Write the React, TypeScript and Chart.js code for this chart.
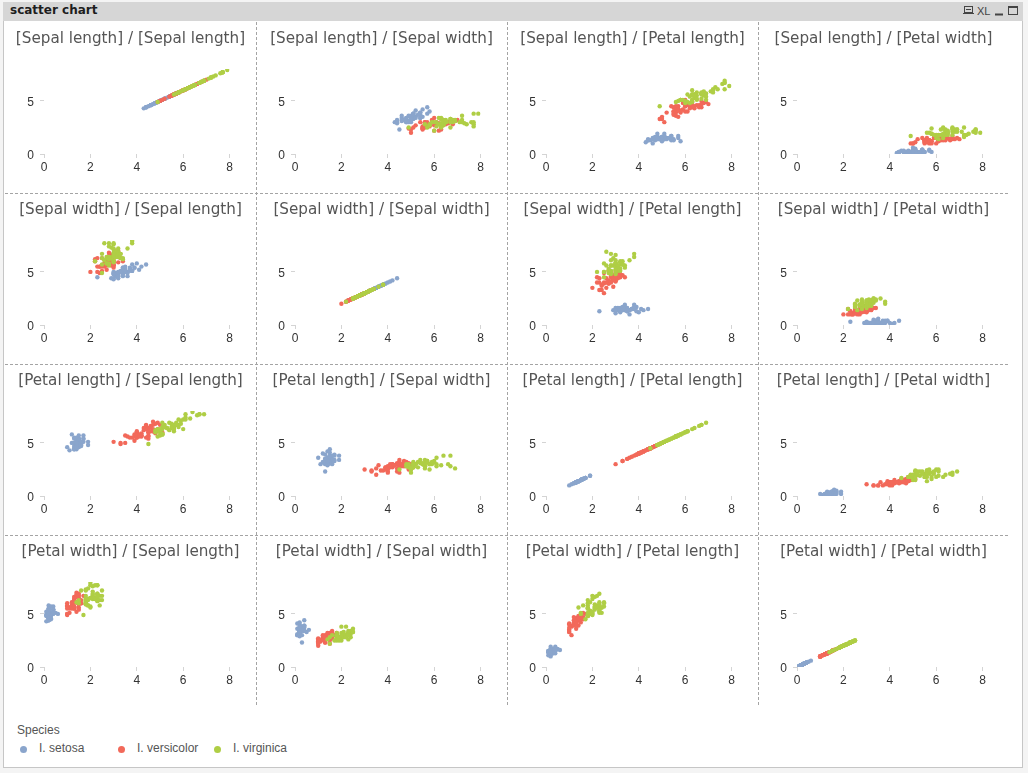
import React, { useEffect, useRef } from 'react';
import { Chart, registerables } from 'chart.js';

Chart.register(...registerables);

// ---- data (Fisher's iris, read per species) ----
const speciesNames = ['I. setosa', 'I. versicolor', 'I. virginica'];
const speciesColors = ['#8aa5cc', '#f2695a', '#afce45'];
const measureNames = ['Sepal length', 'Sepal width', 'Petal length', 'Petal width'];
const xTickValues = [0, 2, 4, 6, 8];
const yTickValues = [0, 5];

const setosaSepalLength = [5.1, 4.9, 4.7, 4.6, 5.0, 5.4, 4.6, 5.0, 4.4, 4.9, 5.4, 4.8, 4.8, 4.3, 5.8, 5.7, 5.4, 5.1, 5.7, 5.1, 5.4, 5.1, 4.6, 5.1, 4.8, 5.0, 5.0, 5.2, 5.2, 4.7, 4.8, 5.4, 5.2, 5.5, 4.9, 5.0, 5.5, 4.9, 4.4, 5.1, 5.0, 4.5, 4.4, 5.0, 5.1, 4.8, 5.1, 4.6, 5.3, 5.0];
const setosaSepalWidth = [3.5, 3.0, 3.2, 3.1, 3.6, 3.9, 3.4, 3.4, 2.9, 3.1, 3.7, 3.4, 3.0, 3.0, 4.0, 4.4, 3.9, 3.5, 3.8, 3.8, 3.4, 3.7, 3.6, 3.3, 3.4, 3.0, 3.4, 3.5, 3.4, 3.2, 3.1, 3.4, 4.1, 4.2, 3.1, 3.2, 3.5, 3.6, 3.0, 3.4, 3.5, 2.3, 3.2, 3.5, 3.8, 3.0, 3.8, 3.2, 3.7, 3.3];
const setosaPetalLength = [1.4, 1.4, 1.3, 1.5, 1.4, 1.7, 1.4, 1.5, 1.4, 1.5, 1.5, 1.6, 1.4, 1.1, 1.2, 1.5, 1.3, 1.4, 1.7, 1.5, 1.7, 1.5, 1.0, 1.7, 1.9, 1.6, 1.6, 1.5, 1.4, 1.6, 1.6, 1.5, 1.5, 1.4, 1.5, 1.2, 1.3, 1.4, 1.3, 1.5, 1.3, 1.3, 1.3, 1.6, 1.9, 1.4, 1.6, 1.4, 1.5, 1.4];
const setosaPetalWidth = [0.2, 0.2, 0.2, 0.2, 0.2, 0.4, 0.3, 0.2, 0.2, 0.1, 0.2, 0.2, 0.1, 0.1, 0.2, 0.4, 0.4, 0.3, 0.3, 0.3, 0.2, 0.4, 0.2, 0.5, 0.2, 0.2, 0.4, 0.2, 0.2, 0.2, 0.2, 0.4, 0.1, 0.2, 0.2, 0.2, 0.2, 0.1, 0.2, 0.2, 0.3, 0.3, 0.2, 0.6, 0.4, 0.3, 0.2, 0.2, 0.2, 0.2];

const versicolorSepalLength = [7.0, 6.4, 6.9, 5.5, 6.5, 5.7, 6.3, 4.9, 6.6, 5.2, 5.0, 5.9, 6.0, 6.1, 5.6, 6.7, 5.6, 5.8, 6.2, 5.6, 5.9, 6.1, 6.3, 6.1, 6.4, 6.6, 6.8, 6.7, 6.0, 5.7, 5.5, 5.5, 5.8, 6.0, 5.4, 6.0, 6.7, 6.3, 5.6, 5.5, 5.5, 6.1, 5.8, 5.0, 5.6, 5.7, 5.7, 6.2, 5.1, 5.7];
const versicolorSepalWidth = [3.2, 3.2, 3.1, 2.3, 2.8, 2.8, 3.3, 2.4, 2.9, 2.7, 2.0, 3.0, 2.2, 2.9, 2.9, 3.1, 3.0, 2.7, 2.2, 2.5, 3.2, 2.8, 2.5, 2.8, 2.9, 3.0, 2.8, 3.0, 2.9, 2.6, 2.4, 2.4, 2.7, 2.7, 3.0, 3.4, 3.1, 2.3, 3.0, 2.5, 2.6, 3.0, 2.6, 2.3, 2.7, 3.0, 2.9, 2.9, 2.5, 2.8];
const versicolorPetalLength = [4.7, 4.5, 4.9, 4.0, 4.6, 4.5, 4.7, 3.3, 4.6, 3.9, 3.5, 4.2, 4.0, 4.7, 3.6, 4.4, 4.5, 4.1, 4.5, 3.9, 4.8, 4.0, 4.9, 4.7, 4.3, 4.4, 4.8, 5.0, 4.5, 3.5, 3.8, 3.7, 3.9, 5.1, 4.5, 4.5, 4.7, 4.4, 4.1, 4.0, 4.4, 4.6, 4.0, 3.3, 4.2, 4.2, 4.2, 4.3, 3.0, 4.1];
const versicolorPetalWidth = [1.4, 1.5, 1.5, 1.3, 1.5, 1.3, 1.6, 1.0, 1.3, 1.4, 1.0, 1.5, 1.0, 1.4, 1.3, 1.4, 1.5, 1.0, 1.5, 1.1, 1.8, 1.3, 1.5, 1.2, 1.3, 1.4, 1.4, 1.7, 1.5, 1.0, 1.1, 1.0, 1.2, 1.6, 1.5, 1.6, 1.5, 1.3, 1.3, 1.3, 1.2, 1.4, 1.2, 1.0, 1.3, 1.2, 1.3, 1.3, 1.1, 1.3];

const virginicaSepalLength = [6.3, 5.8, 7.1, 6.3, 6.5, 7.6, 4.9, 7.3, 6.7, 7.2, 6.5, 6.4, 6.8, 5.7, 5.8, 6.4, 6.5, 7.7, 7.7, 6.0, 6.9, 5.6, 7.7, 6.3, 6.7, 7.2, 6.2, 6.1, 6.4, 7.2, 7.4, 7.9, 6.4, 6.3, 6.1, 7.7, 6.3, 6.4, 6.0, 6.9, 6.7, 6.9, 5.8, 6.8, 6.7, 6.7, 6.3, 6.5, 6.2, 5.9];
const virginicaSepalWidth = [3.3, 2.7, 3.0, 2.9, 3.0, 3.0, 2.5, 2.9, 2.5, 3.6, 3.2, 2.7, 3.0, 2.5, 2.8, 3.2, 3.0, 3.8, 2.6, 2.2, 3.2, 2.8, 2.8, 2.7, 3.3, 3.2, 2.8, 3.0, 2.8, 3.0, 2.8, 3.8, 2.8, 2.8, 2.6, 3.0, 3.4, 3.1, 3.0, 3.1, 3.1, 3.1, 2.7, 3.2, 3.3, 3.0, 2.5, 3.0, 3.4, 3.0];
const virginicaPetalLength = [6.0, 5.1, 5.9, 5.6, 5.8, 6.6, 4.5, 6.3, 5.8, 6.1, 5.1, 5.3, 5.5, 5.0, 5.1, 5.3, 5.5, 6.7, 6.9, 5.0, 5.7, 4.9, 6.7, 4.9, 5.7, 6.0, 4.8, 4.9, 5.6, 5.8, 6.1, 6.4, 5.6, 5.1, 5.6, 6.1, 5.6, 5.5, 4.8, 5.4, 5.6, 5.1, 5.1, 5.9, 5.7, 5.2, 5.0, 5.2, 5.4, 5.1];
const virginicaPetalWidth = [2.5, 1.9, 2.1, 1.8, 2.2, 2.1, 1.7, 1.8, 1.8, 2.5, 2.0, 1.9, 2.1, 2.0, 2.4, 2.3, 1.8, 2.2, 2.3, 1.5, 2.3, 2.0, 2.0, 1.8, 2.1, 1.8, 1.8, 1.8, 2.1, 1.6, 1.9, 2.0, 2.2, 1.5, 1.4, 2.3, 2.4, 1.8, 1.8, 2.1, 2.4, 2.3, 1.9, 2.3, 2.5, 2.3, 1.9, 2.0, 2.3, 1.8];

// per measure: values for [setosa, versicolor, virginica]
const measureValues = [
  [setosaSepalLength, versicolorSepalLength, virginicaSepalLength],
  [setosaSepalWidth, versicolorSepalWidth, virginicaSepalWidth],
  [setosaPetalLength, versicolorPetalLength, virginicaPetalLength],
  [setosaPetalWidth, versicolorPetalWidth, virginicaPetalWidth],
];

const PANEL_W = 251;
const PANEL_H = 171;
const GRID_LEFT = 5;
const GRID_TOP = 22;
const drawOrder = [2, 1, 0]; // first dataset drawn on top

function Panel({ r, c }: { r: number; c: number }) {
  const ref = useRef<HTMLCanvasElement>(null);
  useEffect(() => {
    if (!ref.current) return;
    const xs = measureValues[r];
    const ys = measureValues[c];
    const datasets = drawOrder.map((s) => ({
      label: speciesNames[s],
      data: xs[s].map((x, i) => ({ x, y: ys[s][i] })),
      backgroundColor: speciesColors[s],
      borderWidth: 0,
      pointRadius: 2.2,
      pointHoverRadius: 2.2,
      yAxisID: 'y',
    }));
    const tickGrid = {
      display: true,
      drawOnChartArea: false,
      drawTicks: true,
      tickLength: 4,
      color: '#d4d4d4',
    };
    const chart = new Chart(ref.current, {
      type: 'scatter',
      data: { datasets },
      options: {
        animation: false,
        responsive: false,
        devicePixelRatio: 1,
        events: [],
        layout: { padding: { left: 0, right: 0, top: 0, bottom: 19 } },
        plugins: {
          legend: { display: false },
          tooltip: { enabled: false },
          title: {
            display: true,
            text: `[${measureNames[r]}] / [${measureNames[c]}]`,
            color: '#555555',
            font: { family: "'DejaVu Sans', sans-serif", size: 15.2, weight: 'normal', lineHeight: 1.2 },
            padding: { top: 7.5, bottom: 21.3 },
          },
        },
        scales: {
          x: {
            type: 'linear',
            min: 0,
            max: 8,
            afterBuildTicks: (s: any) => {
              s.ticks = xTickValues.map((v) => ({ value: v }));
            },
            afterFit: (s: any) => {
              s.height = 20;
            },
            grid: tickGrid,
            border: { display: false },
            ticks: {
              color: '#333',
              font: { family: 'Liberation Sans', size: 12 },
              padding: 2,
              maxRotation: 0,
              autoSkip: false,
            },
          },
          y: {
            type: 'linear',
            position: 'left',
            min: 0,
            max: 8,
            afterBuildTicks: (s: any) => {
              s.ticks = yTickValues.map((v) => ({ value: v }));
            },
            afterFit: (s: any) => {
              s.width = 39;
            },
            grid: tickGrid,
            border: { display: false },
            ticks: {
              color: '#333',
              font: { family: 'Liberation Sans', size: 12 },
              padding: 6,
              labelOffset: 2,
              autoSkip: false,
            },
          },
          // empty right-hand spacer so the plot ends where the reference's does
          yRight: {
            type: 'linear',
            position: 'right',
            display: true,
            min: 0,
            max: 8,
            afterBuildTicks: (s: any) => {
              s.ticks = [];
            },
            afterFit: (s: any) => {
              s.width = 26.4;
            },
            grid: { display: false },
            border: { display: false },
            ticks: { display: false },
          },
        },
      },
    } as any);
    return () => chart.destroy();
  }, [r, c]);
  return (
    <canvas
      ref={ref}
      width={PANEL_W}
      height={PANEL_H}
      style={{
        position: 'absolute',
        left: GRID_LEFT + PANEL_W * c,
        top: GRID_TOP + PANEL_H * r,
        width: PANEL_W,
        height: PANEL_H,
      }}
    />
  );
}

export default function App() {
  const panels = [];
  for (let r = 0; r < 4; r++) for (let c = 0; c < 4; c++) panels.push(<Panel key={`${r}-${c}`} r={r} c={c} />);
  const gridRight = GRID_LEFT + PANEL_W * 4;
  const gridBottom = GRID_TOP + PANEL_H * 4;
  return (
    <div style={{ position: 'relative', width: 1028, height: 773, background: '#f4f4f4', overflow: 'hidden' }}>
      <style>{`body{margin:0;}`}</style>
      {/* frame */}
      <div
        style={{
          position: 'absolute',
          left: 3,
          top: 2,
          width: 1018,
          height: 764,
          background: '#fff',
          border: '1px solid #c6c6c6',
        }}
      />
      {/* caption bar */}
      <div
        style={{
          position: 'absolute',
          left: 3,
          top: 2,
          width: 1020,
          height: 19,
          background: '#d6d6d6',
        }}
      />
      <div
        style={{
          position: 'absolute',
          left: 10,
          top: 3,
          height: 17,
          lineHeight: '17px',
          font: 'bold 12px "DejaVu Sans"',
          color: '#1e1e1e',
        }}
      >
        scatter chart
      </div>
      <svg style={{ position: 'absolute', left: 0, top: 0 }} width={1028} height={773}>
        {/* caption icons */}
        <g stroke="#444" fill="none" strokeWidth={1}>
          <rect x={964.5} y={6.5} width={8} height={6} />
          <line x1={963} y1={13.5} x2={974} y2={13.5} />
          <line x1={966} y1={9.5} x2={971} y2={9.5} />
          <line x1={995} y1={14.5} x2={1003} y2={14.5} strokeWidth={2} />
          <rect x={1008.5} y={6.5} width={9} height={8} />
          <line x1={1008.5} y1={7.5} x2={1017.5} y2={7.5} />
        </g>
        <text x={977} y={15} fontFamily="Liberation Sans Narrow, Liberation Sans" fontSize={11} fill="#444">
          XL
        </text>
        {/* panel separators */}
        <g stroke="#a4a4a4" strokeWidth={1} strokeDasharray="3,2">
          {[1, 2, 3].map((i) => (
            <line
              key={`v${i}`}
              x1={GRID_LEFT + PANEL_W * i + 0.5}
              y1={GRID_TOP}
              x2={GRID_LEFT + PANEL_W * i + 0.5}
              y2={gridBottom}
            />
          ))}
          {[1, 2, 3].map((i) => (
            <line
              key={`h${i}`}
              x1={GRID_LEFT}
              y1={GRID_TOP + PANEL_H * i + 0.5}
              x2={gridRight}
              y2={GRID_TOP + PANEL_H * i + 0.5}
            />
          ))}
        </g>
      </svg>
      {panels}
      {/* legend */}
      <div
        style={{
          position: 'absolute',
          left: 17,
          top: 723,
          font: '12px "Liberation Sans"',
          color: '#555',
          lineHeight: '15px',
        }}
      >
        Species
      </div>
      {speciesNames.map((name, i) => (
        <div
          key={name}
          style={{
            position: 'absolute',
            left: [20, 118, 214][i],
            top: 741,
            display: 'flex',
            alignItems: 'center',
            font: '12px "Liberation Sans"',
            color: '#555',
            lineHeight: '15px',
          }}
        >
          <span
            style={{
              display: 'inline-block',
              width: 7,
              height: 7,
              borderRadius: '50%',
              background: speciesColors[i],
              marginRight: 12,
              marginTop: 2,
            }}
          />
          {name}
        </div>
      ))}
    </div>
  );
}
